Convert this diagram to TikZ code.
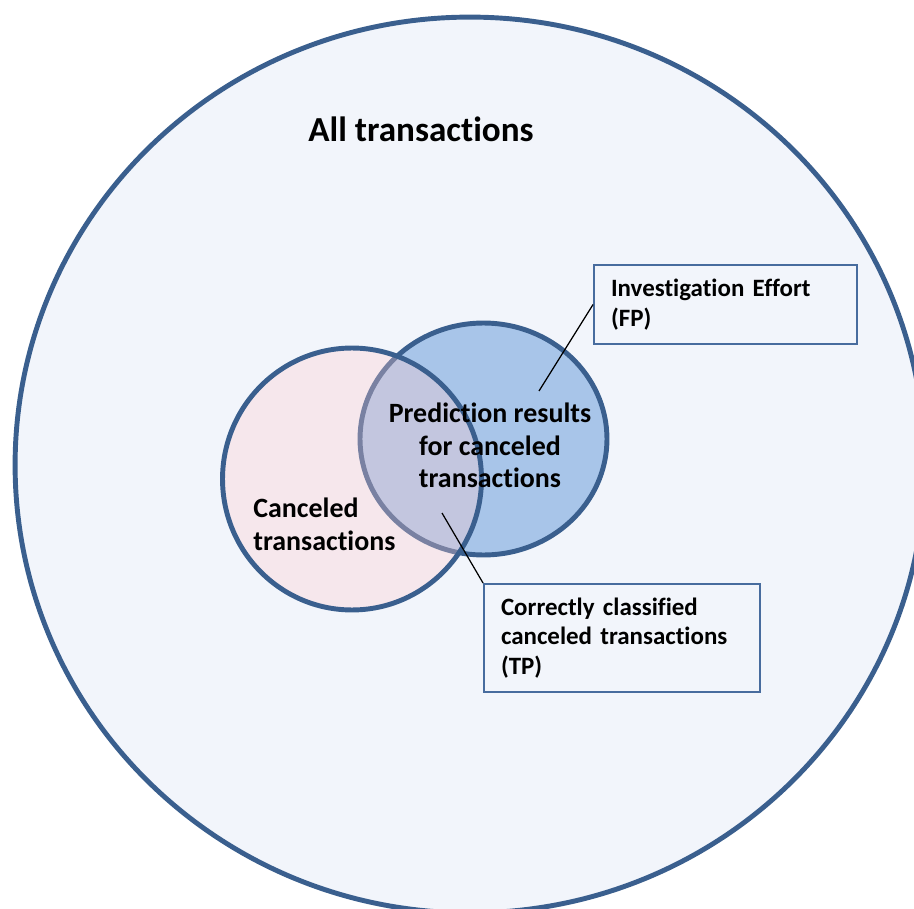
\documentclass[tikz,border=0pt]{standalone}
\usepackage{fontspec}
\setmainfont[RawFeature={-liga}]{Carlito}
\usepackage{tikz}
\usetikzlibrary{shapes.geometric,positioning}

\begin{document}
\begin{tikzpicture}[x=0.02cm, y=-0.02cm]

        \definecolor{setborder}{RGB}{58, 95, 142}
        \definecolor{boxborder}{RGB}{72, 108, 158}
        \definecolor{allfill}{RGB}{242, 245, 251}
        \definecolor{predfill}{RGB}{168, 197, 233}
        \definecolor{cancelfill}{RGB}{255, 203, 205}
        \tikzset{
            setline/.style={ellipse, draw=setborder, line width=2.8pt, inner sep=0pt},
            settext/.style={font=\bfseries\fontsize{15.9}{18.4}\selectfont, inner sep=0pt, text=black},
            labelbox/.style={draw=boxborder, line width=1.1pt, align=left, inner xsep=0.34cm, inner ysep=0pt, font=\bfseries\fontsize{14.2}{16.7}\selectfont},
            leader/.style={draw=black, line width=0.7pt}
        }

        \useasboundingbox (0,0) rectangle (914,909);


        \node[setline, fill=allfill, minimum width=18.2cm, minimum height=17.92cm] (allset) at (470,465) {};
        \node[font=\bfseries\fontsize{20}{24}\selectfont, anchor=base west, inner sep=0pt] (alltitle) at (308,142) {All transactions};


        \node[setline, fill=predfill, minimum width=4.94cm, minimum height=4.64cm] (predset) at (483.5,439) {};
        \node[setline, fill=cancelfill, fill opacity=0.32, minimum width=5.18cm, minimum height=5.24cm] (cancelset) at (352,479) {};


        \node[settext, align=center, anchor=north] (predtext) at (490,403) {Prediction results\\for canceled\\transactions};
        \node[settext, align=left, anchor=north west] (canceltext) at (253,498) {Canceled\\transactions};


        \node[labelbox, minimum width=5.26cm, minimum height=1.58cm, text width=4.58cm] (fpbox) at (725.5,304.5) {Investigation Effort\\(FP)};
        \node[labelbox, minimum width=5.52cm, minimum height=2.16cm, text width=4.84cm] (tpbox) at (622,638) {Correctly classified\\canceled transactions\\(TP)};


        \coordinate (fpend) at (539,391);
        \coordinate (tpend) at (442,513);
        \draw[leader] (fpend) -- (fpbox.west);
        \draw[leader] (tpend) -- (tpbox.north west);

    \end{tikzpicture}
\end{document}
